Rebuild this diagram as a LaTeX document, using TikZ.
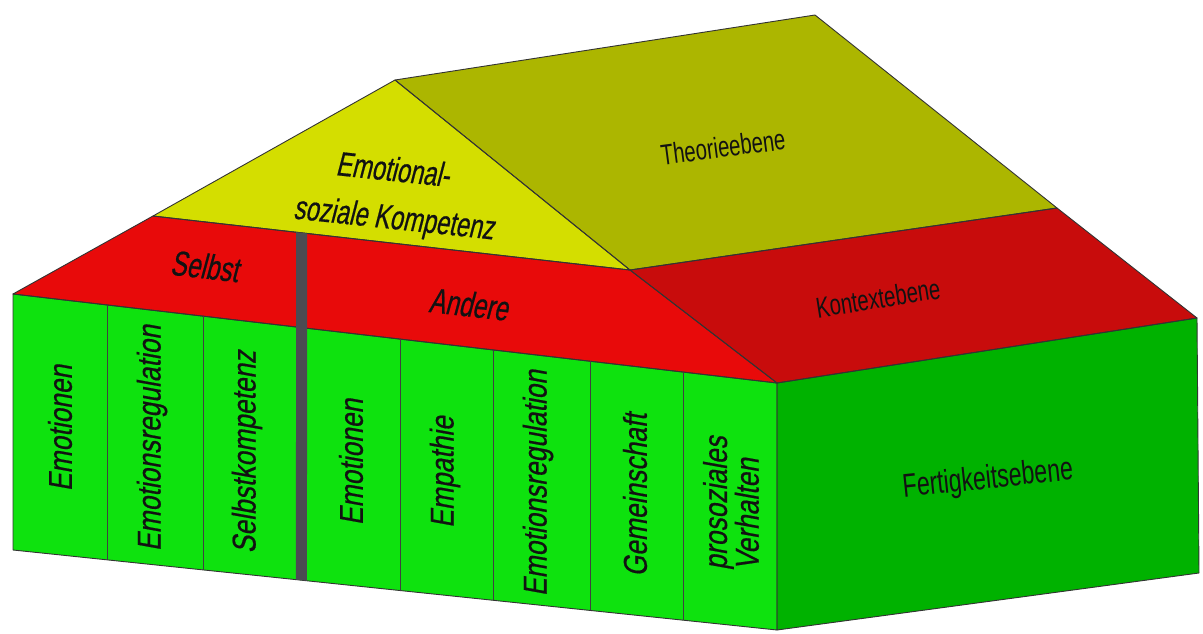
\documentclass[tikz,border=0pt]{standalone}
\usepackage{fontspec}
\usetikzlibrary{calc}
\newfontfamily\colfont[FakeStretch=0.8,FakeSlant=0.18,FakeBold=0.5]{Liberation Sans}
\newfontfamily\slfont[FakeStretch=0.7,FakeSlant=0.15,FakeBold=0.5]{Liberation Sans}
\newfontfamily\upfont[FakeStretch=0.7]{Liberation Sans}
\definecolor{frontgreen}{RGB}{14,226,14}
\definecolor{sidegreen}{RGB}{0,178,0}
\definecolor{frontred}{RGB}{232,10,10}
\definecolor{sidered}{RGB}{200,12,12}
\definecolor{gablecol}{RGB}{212,222,0}
\definecolor{roofcol}{RGB}{172,182,0}
\definecolor{barcol}{RGB}{75,75,82}
\definecolor{inkcol}{RGB}{18,18,18}
\begin{document}
\begin{tikzpicture}[x=1pt,y=-1pt,
  face/.style={draw=black!80,line width=0.9pt,line join=round},
  divline/.style={draw=black!75,line width=0.9pt},
  collab/.style={rotate=90,text=inkcol,font=\colfont\fontsize{33}{30}\selectfont,inner sep=0pt},
  rooflab/.style={text=inkcol,font=\slfont\fontsize{35}{47}\selectfont,inner sep=0pt},
  planelab/.style={text=inkcol,font=\upfont\fontsize{29}{30}\selectfont,inner sep=0pt}]
\useasboundingbox (0,0) rectangle (1203,634);
% corners
\coordinate (A) at (13,294);
\coordinate (B) at (13,550);
\coordinate (C) at (777,383);
\coordinate (D) at (777,630);
\coordinate (E) at (1197,318);
\coordinate (F) at (1199,573);
\coordinate (G) at (153,216);
\coordinate (H) at (395,80);
\coordinate (I) at (815,15);
\coordinate (J) at (1057,208);
\coordinate (K) at (630,270);
% faces
\fill[roofcol] (H) -- (I) -- (J) -- (K) -- cycle;
\fill[gablecol] (G) -- (H) -- (K) -- cycle;
\fill[sidered] (K) -- (J) -- (E) -- (C) -- cycle;
\fill[frontred] (A) -- (G) -- (K) -- (C) -- cycle;
\fill[sidegreen] (C) -- (E) -- (F) -- (D) -- cycle;
\fill[frontgreen] (A) -- (C) -- (D) -- (B) -- cycle;
\draw[face] (H) -- (I) -- (J) -- (K) -- cycle;
\draw[face] (G) -- (H) -- (K) -- cycle;
\draw[face] (K) -- (J) -- (E) -- (C) -- cycle;
\draw[face] (A) -- (G) -- (K) -- (C) -- cycle;
\draw[face] (C) -- (E) -- (F) -- (D) -- cycle;
\draw[face] (A) -- (C) -- (D) -- (B) -- cycle;
% column lines
\foreach \t in {0.123,0.2487,0.5065,0.6283,0.7552,0.877}
  \draw[divline] ($(A)!\t!(C)$) -- ($(B)!\t!(D)$);
% divider bar
\fill[barcol] ($(G)!0.2998!(K)$) -- ($(G)!0.3229!(K)$) -- ($(B)!0.3848!(D)$) -- ($(B)!0.3704!(D)$) -- cycle;
% labels
\node[rooflab,rotate=-6.5] (selbst) at (205,266) {Selbst};
\node[rooflab,rotate=-6.5] (andere) at (469,304) {Andere};
\node[rooflab,rotate=-6,anchor=base,font=\slfont\fontsize{34}{40}\selectfont] (esk1) at (392,181) {Emotional-};
\node[rooflab,rotate=-6,anchor=base,font=\slfont\fontsize{34}{40}\selectfont] (esk2) at (393,229) {soziale Kompetenz};
\node[planelab,rotate=7.5] (theorie) at (723,147) {Theorieebene};
\node[planelab,rotate=9] (kontext) at (878,298) {Kontextebene};
\node[planelab,rotate=6,font=\upfont\fontsize{33}{35}\selectfont] (fert) at (988,480) {Fertigkeitsebene};
\node[collab] (c1) at (60,428) {Emotionen};
\node[collab] (c2) at (152,438) {Emotionsregulation};
\node[collab] (c3) at (247,452) {Selbstkompetenz};
\node[collab] (c4) at (351,462) {Emotionen};
\node[collab] (c5) at (445,472) {Empathie};
\node[collab] (c6) at (538,483) {Emotionsregulation};
\node[collab] (c7) at (635,495) {Gemeinschaft};
\node[collab,align=left] (c8) at (731,503) {prosoziales\\Verhalten};
\end{tikzpicture}
\end{document}
